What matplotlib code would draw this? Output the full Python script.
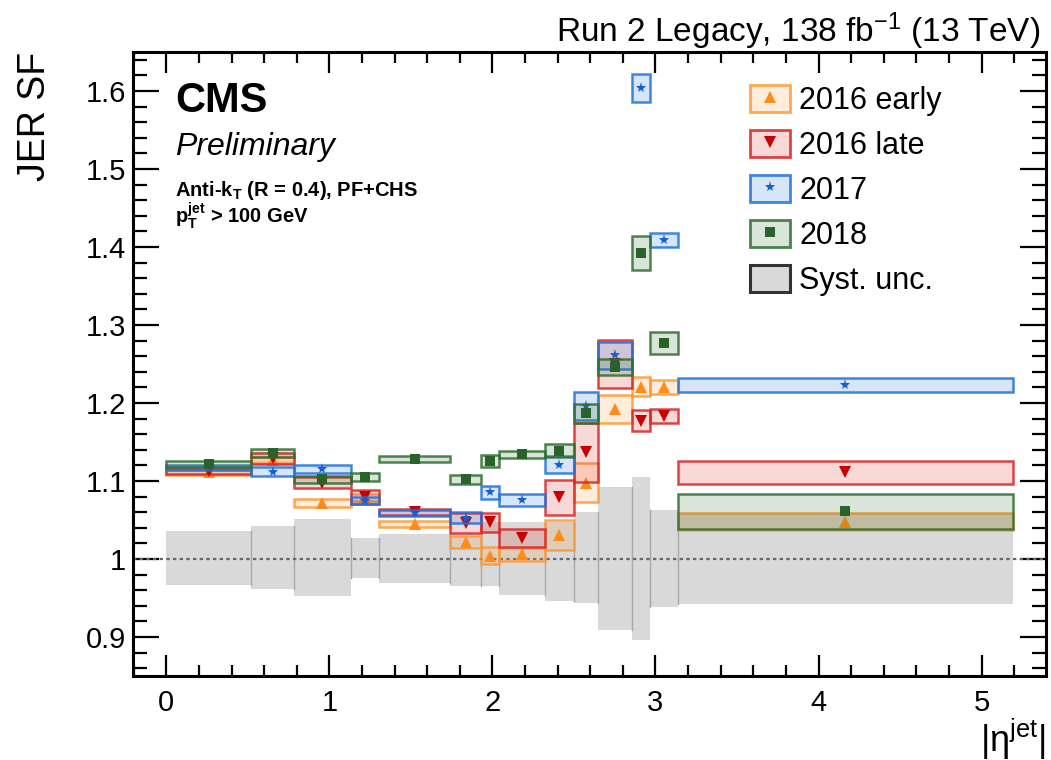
import numpy as np
import matplotlib
matplotlib.use("Agg")
import matplotlib.pyplot as plt
from matplotlib.patches import Rectangle, Patch
from matplotlib.lines import Line2D
from matplotlib.ticker import MultipleLocator

plt.rcParams['font.family'] = ['Liberation Sans', 'DejaVu Sans']
plt.rcParams['mathtext.fontset'] = 'custom'
plt.rcParams['mathtext.rm'] = 'Liberation Sans'
plt.rcParams['mathtext.it'] = 'Liberation Sans:italic'
plt.rcParams['mathtext.bf'] = 'Liberation Sans:bold'

# |eta| binning
eta_edges = [0, 0.522, 0.783, 1.131, 1.305, 1.740, 1.930, 2.043,
             2.322, 2.500, 2.650, 2.853, 2.964, 3.139, 5.191]

# scale factors and uncertainties per era
sf_2016early = [1.111, 1.127, 1.072, 1.079, 1.045, 1.022, 1.004, 1.006,
                1.031, 1.098, 1.192, 1.221, 1.220, 1.048]
err_2016early = [0.003, 0.004, 0.005, 0.004, 0.004, 0.008, 0.011, 0.008,
                 0.019, 0.025, 0.018, 0.012, 0.009, 0.011]

sf_2016late = [1.113, 1.129, 1.098, 1.080, 1.060, 1.046, 1.047, 1.027,
               1.079, 1.137, 1.250, 1.177, 1.183, 1.111]
err_2016late = [0.0035, 0.007, 0.007, 0.009, 0.004, 0.013, 0.012, 0.011,
                0.0225, 0.038, 0.031, 0.0135, 0.009, 0.0145]

sf_2017 = [1.117, 1.112, 1.115, 1.075, 1.059, 1.053, 1.0855, 1.0756,
           1.121, 1.196, 1.261, 1.604, 1.409, 1.223]
err_2017 = [0.003, 0.006, 0.005, 0.005, 0.004, 0.007, 0.0085, 0.0077,
            0.011, 0.0175, 0.017, 0.018, 0.0095, 0.009]

sf_2018 = [1.122, 1.136, 1.102, 1.1055, 1.128, 1.102, 1.126, 1.134,
           1.139, 1.187, 1.246, 1.392, 1.277, 1.061]
err_2018 = [0.004, 0.005, 0.005, 0.005, 0.0037, 0.0053, 0.0075, 0.004,
            0.008, 0.012, 0.010, 0.022, 0.014, 0.0225]

# systematic band around 1
syst_up = [0.036, 0.042, 0.051, 0.027, 0.032, 0.032, 0.047, 0.047,
           0.047, 0.060, 0.092, 0.105, 0.063, 0.059]
syst_down = [0.033, 0.038, 0.047, 0.024, 0.031, 0.034, 0.034, 0.046,
             0.054, 0.057, 0.091, 0.104, 0.061, 0.058]

eras = [
    ("2016 early", sf_2016early, err_2016early, '#ff9933', '#ff8c1a', '^', 8),
    ("2016 late", sf_2016late, err_2016late, '#d92626', '#c80000', 'v', 8),
    ("2017", sf_2017, err_2017, '#1f72dc', '#1560d0', '*', 8),
    ("2018", sf_2018, err_2018, '#2f6f2f', '#2a632a', 's', 6.5),
]

fig = plt.figure(figsize=(10.51, 7.60), dpi=100)
ax = fig.add_axes([0.1265, 0.1105, 0.8687, 0.8211])

edges = np.array(eta_edges)
lo, hi = edges[:-1], edges[1:]
centers = 0.5 * (lo + hi)

# grey syst. band
for i in range(len(centers)):
    ax.add_patch(Rectangle((lo[i], 1 - syst_down[i]), hi[i] - lo[i],
                           syst_up[i] + syst_down[i], facecolor='#d9d9d9',
                           edgecolor='none', zorder=1))
for i in range(1, len(centers)):
    y0 = 1 - min(syst_down[i - 1], syst_down[i])
    y1 = 1 + min(syst_up[i - 1], syst_up[i])
    ax.plot([edges[i], edges[i]], [y0, y1], color='#a8a8a8', lw=1.0, zorder=1.5)

ax.axhline(1.0, color='#666666', ls=(0, (1.5, 1.5)), lw=1.6, zorder=2)

handles = []
z = 3
for label, sf, err, col, mcol, mk, ms in eras:
    for i in range(len(centers)):
        ax.add_patch(Rectangle((lo[i], sf[i] - err[i]), hi[i] - lo[i], 2 * err[i],
                               facecolor=matplotlib.colors.to_rgba(col, 0.18),
                               edgecolor=matplotlib.colors.to_rgba(col, 0.85),
                               lw=1.8, zorder=z))
    ax.plot(centers, sf, ls='none', marker=mk, ms=ms, color=mcol,
            markeredgewidth=0, zorder=z + 0.5)
    handles.append((Patch(facecolor=matplotlib.colors.to_rgba(col, 0.18),
                          edgecolor=matplotlib.colors.to_rgba(col, 0.85), lw=2),
                    Line2D([], [], ls='none', marker=mk, ms=ms, color=mcol,
                           markeredgewidth=0)))
    z += 1
handles.append(Patch(facecolor='#d9d9d9', edgecolor='#333333', lw=2.2))
labels = [e[0] for e in eras] + ["Syst. unc."]

ax.legend(handles, labels, loc='upper left', bbox_to_anchor=(0.676, 0.947),
          frameon=False, fontsize=22, handlelength=1.31, handleheight=0.98,
          handletextpad=0.3, labelspacing=0.46, borderpad=0, borderaxespad=0)

ax.set_xlim(-0.205, 5.395)
ax.set_ylim(0.85, 1.65)
ax.xaxis.set_major_locator(MultipleLocator(1))
ax.xaxis.set_minor_locator(MultipleLocator(0.2))
ax.yaxis.set_major_locator(MultipleLocator(0.1))
ax.yaxis.set_minor_locator(MultipleLocator(0.02))
ax.set_yticks([0.9, 1.0, 1.1, 1.2, 1.3, 1.4, 1.5, 1.6])
ax.set_yticklabels(['0.9', '1', '1.1', '1.2', '1.3', '1.4', '1.5', '1.6'])

ax.tick_params(which='both', direction='in', top=True, right=True, width=1.6,
               labelsize=21)
ax.tick_params(axis='y', which='major', length=19, pad=5)
ax.tick_params(axis='y', which='minor', length=10)
ax.tick_params(axis='x', which='major', length=15, pad=9)
ax.tick_params(axis='x', which='minor', length=8)
for s in ax.spines.values():
    s.set_linewidth(2.2)

ax.set_ylabel('JER SF', fontsize=27, loc='top')
ax.yaxis.set_label_coords(-0.088, 1.0)
ax.set_xlabel(r'$|\mathrm{\eta}^{\mathrm{jet}}|$', fontsize=26, loc='right',
              labelpad=0)

ax.text(0.046, 0.904, 'CMS', transform=ax.transAxes, fontsize=30,
        fontweight='bold', va='baseline')
ax.text(0.046, 0.835, 'Preliminary', transform=ax.transAxes, fontsize=23,
        style='italic', va='baseline')
ax.text(0.046, 0.769, r'Anti-k$_{\mathbf{T}}$ (R = 0.4), PF+CHS',
        transform=ax.transAxes, fontsize=14.5, fontweight='bold', va='baseline')
ax.text(0.046, 0.726, r'$\mathbf{p}_{\mathbf{T}}^{\mathbf{jet}}$ > 100 GeV',
        transform=ax.transAxes, fontsize=14.5, fontweight='bold', va='baseline')

fig.text(0.99, 0.945, r'Run 2 Legacy, 138 fb$^{\mathregular{-1}}$ (13 TeV)',
         ha='right', va='baseline', fontsize=24)

fig.savefig('out.png', dpi=100)
